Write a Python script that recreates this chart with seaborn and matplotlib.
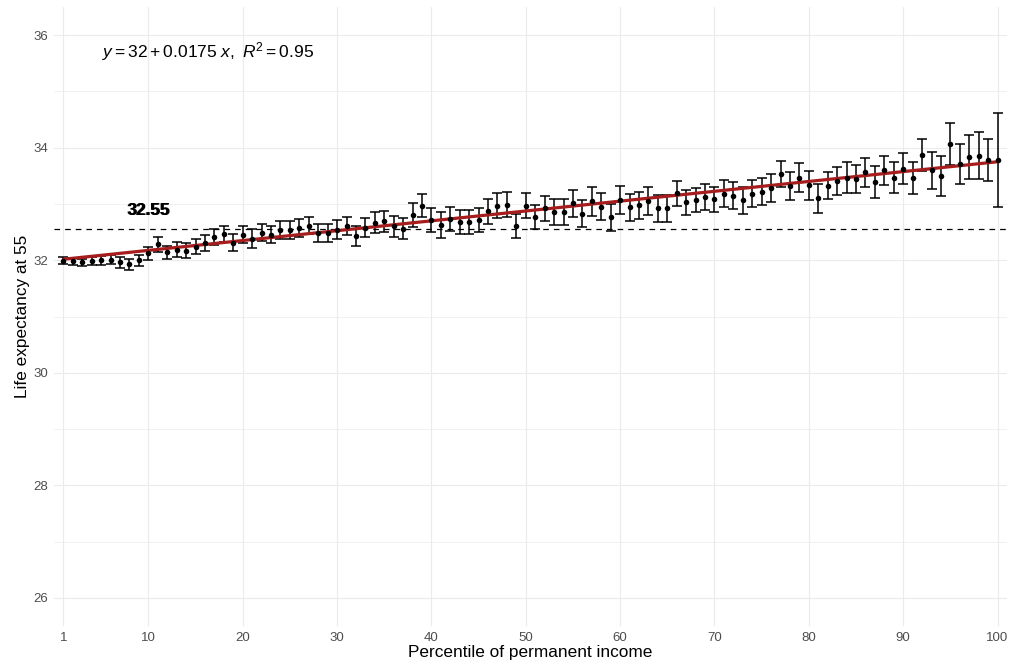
import numpy as np
import pandas as pd
import matplotlib
matplotlib.use("Agg")
import matplotlib.pyplot as plt
import seaborn as sns

# Percentile of permanent income and life expectancy at 55 (mean and CI half-width)
percentile = list(range(1, 101))
life_exp = [
    31.99, 31.98, 31.96, 31.99, 32.00, 32.01, 31.96, 31.93, 32.00, 32.12,
    32.28, 32.14, 32.19, 32.17, 32.24, 32.31, 32.41, 32.47, 32.31, 32.45,
    32.38, 32.49, 32.45, 32.54, 32.53, 32.58, 32.61, 32.48, 32.49, 32.54,
    32.60, 32.43, 32.58, 32.67, 32.69, 32.60, 32.56, 32.80, 32.97, 32.71,
    32.63, 32.73, 32.68, 32.68, 32.71, 32.87, 32.97, 32.99, 32.61, 32.97,
    32.77, 32.92, 32.86, 32.86, 33.01, 32.83, 33.05, 32.95, 32.76, 33.07,
    32.94, 32.98, 33.05, 32.92, 32.92, 33.19, 33.03, 33.07, 33.13, 33.08,
    33.18, 33.15, 33.07, 33.18, 33.22, 33.28, 33.54, 33.32, 33.47, 33.33,
    33.10, 33.32, 33.41, 33.47, 33.44, 33.56, 33.39, 33.60, 33.47, 33.63,
    33.46, 33.87, 33.60, 33.50, 34.06, 33.71, 33.83, 33.86, 33.78, 33.78,
]
ci_half = [
    0.06, 0.06, 0.07, 0.07, 0.08, 0.08, 0.09, 0.10, 0.10, 0.12,
    0.13, 0.12, 0.13, 0.13, 0.13, 0.14, 0.14, 0.14, 0.15, 0.15,
    0.17, 0.15, 0.15, 0.16, 0.16, 0.16, 0.15, 0.16, 0.16, 0.17,
    0.16, 0.17, 0.17, 0.18, 0.18, 0.18, 0.19, 0.21, 0.20, 0.21,
    0.23, 0.21, 0.21, 0.21, 0.21, 0.22, 0.22, 0.22, 0.21, 0.22,
    0.22, 0.23, 0.23, 0.23, 0.24, 0.24, 0.26, 0.24, 0.24, 0.25,
    0.24, 0.24, 0.25, 0.24, 0.24, 0.22, 0.22, 0.22, 0.23, 0.22,
    0.24, 0.24, 0.24, 0.24, 0.24, 0.25, 0.23, 0.25, 0.26, 0.26,
    0.26, 0.24, 0.25, 0.27, 0.25, 0.26, 0.28, 0.26, 0.28, 0.28,
    0.28, 0.28, 0.33, 0.36, 0.37, 0.36, 0.39, 0.41, 0.38, 0.83,
]

# Linear fit and reference level
fit_intercept = 32.0
fit_slope = 0.0175
fit_r2 = 0.95
ref_level = 32.55

x_ticks = [1, 10, 20, 30, 40, 50, 60, 70, 80, 90, 100]
y_ticks = [26, 28, 30, 32, 34, 36]

df = pd.DataFrame({"pct": percentile, "le": life_exp, "ci": ci_half})
df["fit"] = fit_intercept + fit_slope * df["pct"]

sns.set_theme(style="white")
plt.rcParams["font.family"] = ["Liberation Sans", "DejaVu Sans"]
plt.rcParams["mathtext.fontset"] = "custom"
plt.rcParams["mathtext.rm"] = "Liberation Sans"
plt.rcParams["mathtext.it"] = "Liberation Sans:italic"

fig = plt.figure(figsize=(10.11, 6.69), dpi=100)
ax = fig.add_axes([54 / 1011, 43 / 669, 953 / 1011, 619 / 669])

ax.set_xlim(0, 101)
ax.set_ylim(25.5, 36.5)

# Grid: major at ticks, minor horizontal lines at odd values
ax.set_xticks(x_ticks)
ax.set_yticks(y_ticks)
ax.set_yticks([27, 29, 31, 33, 35], minor=True)
ax.grid(which="major", color="#ebebeb", linewidth=0.8)
ax.grid(which="minor", axis="y", color="#ebebeb", linewidth=0.5)
ax.set_axisbelow(True)
for s in ax.spines.values():
    s.set_visible(False)
ax.tick_params(axis="both", which="both", length=0, labelsize=9.5,
               labelcolor="#4d4d4d", pad=4)

# Dashed reference level
ax.axhline(ref_level, color="black", linestyle=(0, (4.5, 4)), linewidth=0.9, zorder=2)
for dx in (0.0, 0.06):
    ax.text(10 + dx, ref_level + 0.33, f"{ref_level:.2f}", ha="center", va="center",
            fontsize=12.3, color="black", fontweight="bold")

# Confidence intervals
ax.errorbar(df["pct"], df["le"], yerr=df["ci"], fmt="none", ecolor="black",
            elinewidth=1.1, capsize=3.6, capthick=1.1, zorder=3)

# Fitted line
sns.lineplot(data=df, x="pct", y="fit", color="#a71c1c", linewidth=2.3,
             ax=ax, zorder=4)

# Point estimates
sns.scatterplot(data=df, x="pct", y="le", color="black", s=16, edgecolor="black",
                linewidth=0, ax=ax, zorder=5)

ax.text(5.08, 35.70,
        r"$y = 32 + 0.0175\ x,\ R^{2} = 0.95$",
        ha="left", va="center", fontsize=12.5, color="black")

ax.set_xlabel("Percentile of permanent income", fontsize=12.4, color="black", labelpad=1)
ax.set_ylabel("Life expectancy at 55", fontsize=12.4, color="black", labelpad=3)

fig.savefig("out.png", dpi=100)
